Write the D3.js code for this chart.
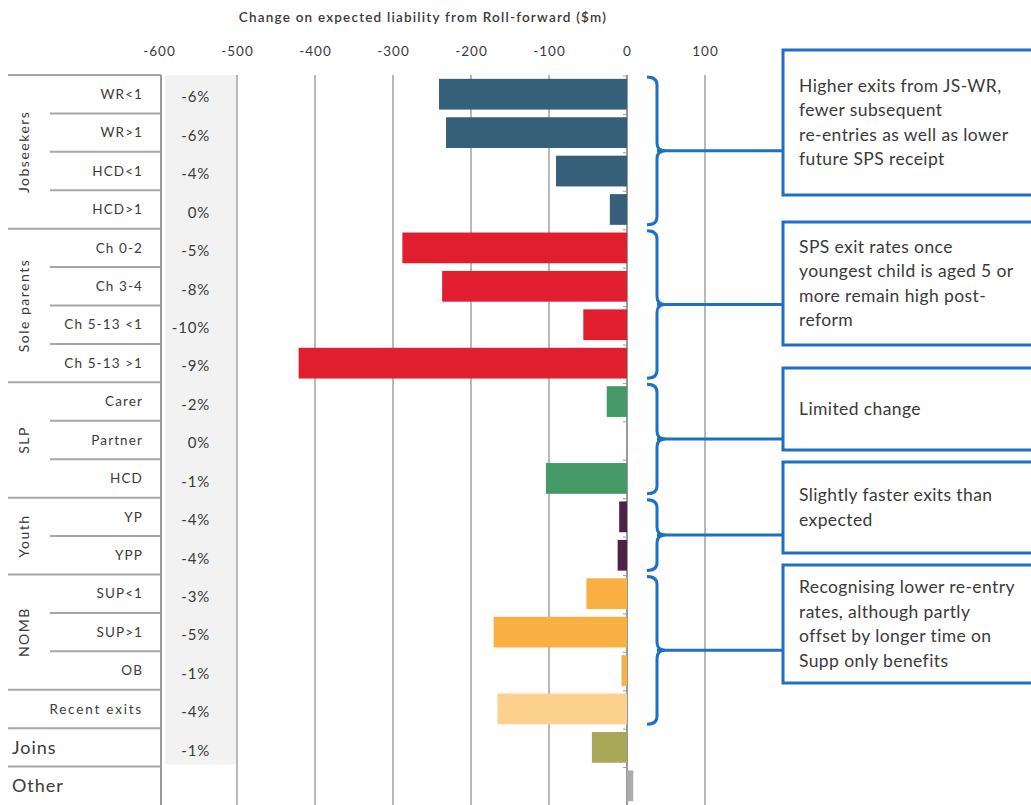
<!DOCTYPE html>
<html>
<head>
<meta charset="utf-8">
<script src="https://cdn.jsdelivr.net/npm/d3@7"></script>
<style>
  body { margin: 0; background: #fff; }
  svg { display: block; font-family: Lato, 'Open Sans', sans-serif; }
</style>
</head>
<body>
<svg id="chart" width="1031" height="805"></svg>
<script>
// rows of the table / bars, top to bottom
const categories = ['WR<1', 'WR>1', 'HCD<1', 'HCD>1', 'Ch 0-2', 'Ch 3-4', 'Ch 5-13 <1', 'Ch 5-13 >1',
  'Carer', 'Partner', 'HCD', 'YP', 'YPP', 'SUP<1', 'SUP>1', 'OB', 'Recent exits', 'Joins', 'Other'];
const rowGroup = ['Jobseekers', 'Jobseekers', 'Jobseekers', 'Jobseekers',
  'Sole parents', 'Sole parents', 'Sole parents', 'Sole parents',
  'SLP', 'SLP', 'SLP', 'Youth', 'Youth', 'NOMB', 'NOMB', 'NOMB', 'Recent exits', 'Joins', 'Other'];
// change on expected liability ($m)
const values = [-241, -232, -91, -22, -288, -237, -56, -421, -26, 0, -104, -10, -12, -52, -171, -7, -166, -45, 8];
const pctLabels = ['-6%', '-6%', '-4%', '0%', '-5%', '-8%', '-10%', '-9%', '-2%', '0%', '-1%', '-4%', '-4%',
  '-3%', '-5%', '-1%', '-4%', '-1%', ''];
const groupColors = {
  'Jobseekers': '#366079', 'Sole parents': '#e01e2e', 'SLP': '#459a68', 'Youth': '#4b2145',
  'NOMB': '#f8b042', 'Recent exits': '#fbd18d', 'Joins': '#a9a856', 'Other': '#ababab'
};
// groups that get a rotated label in the first column
const rotatedGroups = ['Jobseekers', 'Sole parents', 'SLP', 'Youth', 'NOMB'];
const xTicks = [-600, -500, -400, -300, -200, -100, 0, 100];

// comment boxes: first row, last row of the brace and text lines
const notes = [
  { from: 0, to: 3, top: 50, bottom: 195, lines: ['Higher exits from JS-WR,', 'fewer subsequent', 're-entries as well as lower', 'future SPS receipt'] },
  { from: 4, to: 7, top: 222, bottom: 345, lines: ['SPS exit rates once', 'youngest child is aged 5 or', 'more remain high post-', 'reform'] },
  { from: 8, to: 10, top: 368, bottom: 450, lines: ['Limited change'] },
  { from: 11, to: 12, top: 462, bottom: 553, lines: ['Slightly faster exits than', 'expected'] },
  { from: 13, to: 16, top: 565, bottom: 683, lines: ['Recognising lower re-entry', 'rates, although partly', 'offset by longer time on', 'Supp only benefits'] }
];

const svg = d3.select('#chart');
const textCol = '#3a3a3a';
const lineCol = '#a6a6a6';
const blue = '#1f6fc4';

const x = d3.scaleLinear().domain([-600, 100]).range([159, 705]);
const y = d3.scaleBand().domain(d3.range(categories.length)).range([75, 805]);
const bw = y.bandwidth();
const tableLeft = 8, tableRight = 161, labelLeft = 50;
const isBig = (i) => rowGroup[i] === 'Joins' || rowGroup[i] === 'Other';

// title
svg.append('text')
  .attr('x', 423).attr('y', 22)
  .attr('text-anchor', 'middle')
  .attr('font-size', 13.5).attr('font-weight', 600)
  .attr('letter-spacing', 1.2)
  .attr('fill', textCol)
  .text('Change on expected liability from Roll-forward ($m)');

// grey band for the percent column
svg.append('rect')
  .attr('x', x(-600) + 6).attr('y', y(0))
  .attr('width', x(-500) - x(-600) - 6)
  .attr('height', y(17) + bw - y(0) - 2)
  .attr('fill', '#f2f2f2');

// top axis with gridlines
const axis = svg.append('g')
  .attr('transform', 'translate(0,' + y(0) + ')')
  .call(d3.axisTop(x).tickValues(xTicks).tickSize(0).tickPadding(19).tickFormat((d) => String(d)));
axis.select('.domain').remove();
axis.selectAll('text')
  .attr('font-size', 13.5).attr('letter-spacing', 1)
  .attr('fill', textCol).attr('font-family', 'Lato, sans-serif');

svg.append('g')
  .selectAll('line')
  .data(xTicks.filter((d) => d > -600))
  .join('line')
  .attr('x1', (d) => x(d)).attr('x2', (d) => x(d))
  .attr('y1', y(0)).attr('y2', 805)
  .attr('stroke', (d) => (d === 0 ? '#9a9a9a' : '#b8b8b8'))
  .attr('stroke-width', 2);

// small ticks on the zero axis at each row boundary
svg.append('g')
  .selectAll('line')
  .data(d3.range(categories.length))
  .join('line')
  .attr('x1', x(0) - 4).attr('x2', x(0))
  .attr('y1', (d) => y(d) + 1).attr('y2', (d) => y(d) + 1)
  .attr('stroke', '#9a9a9a').attr('stroke-width', 1);

// bars
svg.append('g')
  .selectAll('rect')
  .data(values)
  .join('rect')
  .attr('x', (d) => x(Math.min(0, d)))
  .attr('y', (d, i) => y(i) + bw * 0.1)
  .attr('width', (d) => Math.abs(x(d) - x(0)))
  .attr('height', bw * 0.8)
  .attr('fill', (d, i) => groupColors[rowGroup[i]]);

// table lines on the left
const rowLines = svg.append('g');
categories.forEach(function (c, i) {
  const newGroup = i === 0 || rowGroup[i] !== rowGroup[i - 1];
  rowLines.append('line')
    .attr('x1', newGroup ? tableLeft : labelLeft).attr('x2', tableRight)
    .attr('y1', y(i)).attr('y2', y(i))
    .attr('stroke', lineCol).attr('stroke-width', 2);
});
svg.append('line')
  .attr('x1', tableRight).attr('x2', tableRight)
  .attr('y1', y(0)).attr('y2', 805)
  .attr('stroke', '#9a9a9a').attr('stroke-width', 2);

// row labels
svg.append('g')
  .selectAll('text')
  .data(categories)
  .join('text')
  .attr('x', (d, i) => (isBig(i) ? 12 : 143))
  .attr('y', (d, i) => y(i) + bw / 2)
  .attr('dy', '0.35em')
  .attr('text-anchor', (d, i) => (isBig(i) ? 'start' : 'end'))
  .attr('font-size', (d, i) => (isBig(i) ? 18 : 13.5))
  .attr('letter-spacing', (d, i) => (isBig(i) ? 1 : (d === 'Recent exits' ? 1.8 : 1.1)))
  .attr('fill', textCol)
  .text((d) => d);

// rotated group labels
rotatedGroups.forEach(function (g) {
  const idx = d3.range(categories.length).filter((i) => rowGroup[i] === g);
  const cy = (y(idx[0]) + y(idx[idx.length - 1]) + bw) / 2;
  svg.append('text')
    .attr('transform', 'translate(24,' + cy + ') rotate(-90)')
    .attr('text-anchor', 'middle')
    .attr('dy', '0.35em')
    .attr('font-size', 14)
    .attr('letter-spacing', 1.5)
    .attr('fill', textCol)
    .text(g);
});

// percent column
svg.append('g')
  .selectAll('text')
  .data(pctLabels)
  .join('text')
  .attr('x', 210)
  .attr('y', (d, i) => y(i) + bw / 2 + 3)
  .attr('dy', '0.35em')
  .attr('text-anchor', 'end')
  .attr('font-size', 15)
  .attr('letter-spacing', 0.8)
  .attr('fill', textCol)
  .text((d) => d);

// braces and comment boxes
const tipX = 647, spineX = 657, noseX = 665, boxX = 783;
function bracePath(y0, y1) {
  const ym = (y0 + y1) / 2, r = 8;
  return 'M' + tipX + ',' + y0 +
    ' Q' + spineX + ',' + y0 + ' ' + spineX + ',' + (y0 + r) +
    ' L' + spineX + ',' + (ym - r) +
    ' Q' + spineX + ',' + ym + ' ' + noseX + ',' + ym +
    ' Q' + spineX + ',' + ym + ' ' + spineX + ',' + (ym + r) +
    ' L' + spineX + ',' + (y1 - r) +
    ' Q' + spineX + ',' + y1 + ' ' + tipX + ',' + y1;
}

notes.forEach(function (n) {
  const y0 = y(n.from) + 2, y1 = y(n.to) + bw - 4;
  const ym = (y0 + y1) / 2;
  svg.append('path')
    .attr('d', bracePath(y0, y1))
    .attr('fill', 'none').attr('stroke', blue).attr('stroke-width', 3);
  svg.append('line')
    .attr('x1', spineX).attr('x2', boxX)
    .attr('y1', ym).attr('y2', ym)
    .attr('stroke', blue).attr('stroke-width', 3);
  svg.append('rect')
    .attr('x', boxX).attr('y', n.top)
    .attr('width', 1040 - boxX).attr('height', n.bottom - n.top)
    .attr('fill', '#fff').attr('stroke', blue).attr('stroke-width', 3);
  const lh = 24.5;
  const firstY = (n.top + n.bottom) / 2 - (lh * (n.lines.length - 1)) / 2;
  n.lines.forEach(function (t, k) {
    svg.append('text')
      .attr('x', 799).attr('y', firstY + k * lh)
      .attr('dy', '0.35em')
      .attr('font-size', 17.5)
      .attr('letter-spacing', 0.4)
      .attr('fill', textCol)
      .text(t);
  });
});
</script>
</body>
</html>
